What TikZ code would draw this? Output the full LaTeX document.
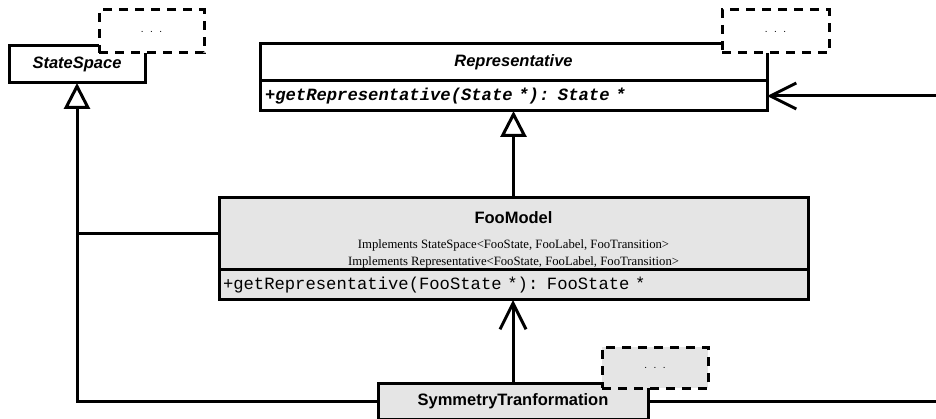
\documentclass[tikz,border=0pt]{standalone}
\usepackage{fontspec}
\setmainfont{Liberation Serif}
\setsansfont{Liberation Sans}
\setmonofont{Liberation Mono}
\usepackage{tikz}
\usetikzlibrary{positioning}
\usetikzlibrary{shapes,arrows,calc,arrows.meta}

\begin{document}
\begin{tikzpicture}[x=1pt, y=1pt, line width=3pt,
  classhead/.style={draw, rectangle, fill=white, anchor=north west, inner sep=0pt, outer sep=0pt,
    font=\sffamily\bfseries\fontsize{16.5}{20}\selectfont},
  classops/.style={draw, rectangle, fill=white, inner xsep=4pt, inner ysep=0pt, outer sep=0pt,
    minimum height=30pt, align=left, font=\ttfamily\fontsize{17.2}{20}\selectfont},
  tparam/.style={draw, rectangle, dash pattern=on 9pt off 7pt, fill=white, anchor=north west,
    inner sep=0pt, outer sep=0pt, font=\sffamily\fontsize{10}{12}\selectfont},
  gen/.style={-{Triangle[open, length=26pt, width=26pt]}},
  assoc/.style={-{Straight Barb[length=26pt, width=26pt]}}]
  \useasboundingbox (0,0) rectangle (936,-419);

  % Nodes
  \node [classhead, minimum width=136pt, minimum height=37pt] (statespace) at (9,-46) {\itshape StateSpace};
  \node [classhead, minimum width=507pt, minimum height=37pt] (reprhead) at (260,-44) {\itshape Representative};
  \node [classops, text width=497pt, inner xsep=5pt, below=0pt of reprhead] (reprops)
    {\bfseries\itshape +getRepresentative(State *): State *};
  \node [classhead, fill=black!10, minimum width=589pt, minimum height=72pt] (foohead) at (219,-198) {};
  \node [font=\rmfamily\fontsize{12.7}{17}\selectfont, align=center, inner sep=0pt, below=12pt of foohead.north] (footext)
    {{\sffamily\bfseries\fontsize{16.5}{17}\selectfont FooModel}\\[8pt]
     Implements StateSpace<FooState, FooLabel, FooTransition>\\
     Implements Representative<FooState, FooLabel, FooTransition>};
  \node [classops, fill=black!10, text width=581pt, below=0pt of foohead] (fooops)
    {+getRepresentative(FooState *): FooState *};
  \node [classhead, fill=black!10, minimum width=270pt, minimum height=36pt] (symm) at (378,-383) {SymmetryTranformation};
  \coordinate (edge) at (936,0);

  % Template boxes
  \node [tparam, minimum width=105pt, minimum height=43pt] (statetpl) at (99,-10) {.\hspace{6.5pt}.\hspace{6.5pt}.};
  \node [tparam, minimum width=107pt, minimum height=43pt] (reprtpl) at (722,-10) {.\hspace{6.5pt}.\hspace{6.5pt}.};
  \node [tparam, fill=black!10, minimum width=106pt, minimum height=41pt] (symmtpl) at (602,-347) {.\hspace{6.5pt}.\hspace{6.5pt}.};

  % Arrows
  \draw [gen] (symm.west) -| (statespace.south);
  \draw (foohead.west) -- (foohead.west -| statespace.south);
  \draw [gen] (foohead.north -| reprops.south) -- (reprops.south);
  \draw [assoc] (symm.north) -- (symm.north |- fooops.south);
  \draw (symm.east) -- (symm.east -| edge);
  \draw [assoc] (reprops.east -| edge) -- (reprops.east);
\end{tikzpicture}
\end{document}
